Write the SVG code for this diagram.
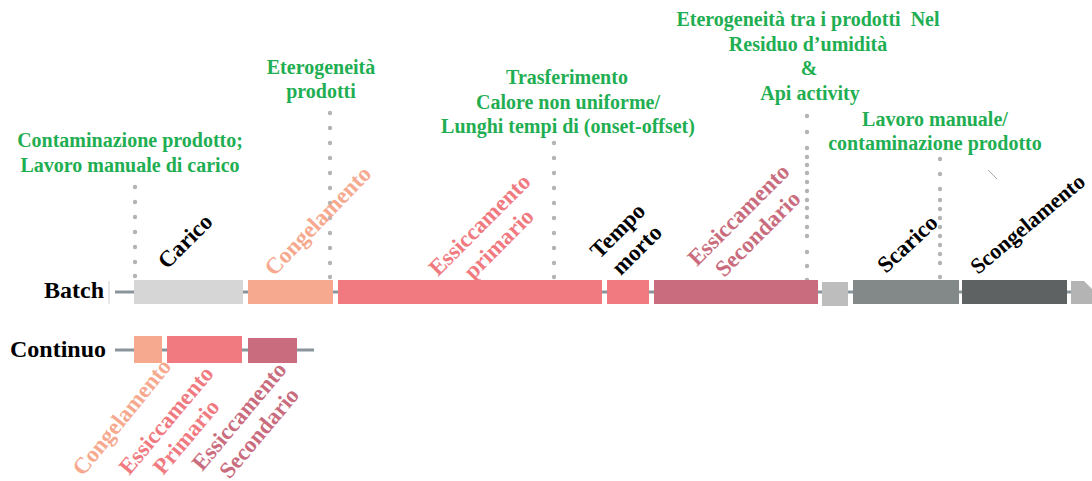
<svg xmlns="http://www.w3.org/2000/svg" width="1092" height="481" viewBox="0 0 1092 481">
<defs>
<style>
.g{font-family:"Liberation Serif","Times New Roman",serif;font-weight:bold;font-size:20px;fill:#1fae52;text-anchor:middle}
.r{font-family:"Liberation Serif","Times New Roman",serif;font-weight:bold;font-size:23px}
.m{text-anchor:middle}
.h{font-family:"Liberation Serif","Times New Roman",serif;font-weight:bold;font-size:24px;fill:#000}
.k{fill:#000}
.c1{fill:#f6a98e}
.c2{fill:#f07a7f}
.c3{fill:#c96d7e}
.ln{stroke:#8a959b;stroke-width:3;fill:none}
.dot{fill:#b4b4b4}
</style>
</defs>
<rect width="1092" height="481" fill="#fff"/>

<g id="connectors">
<line class="ln" x1="115" y1="292" x2="1080" y2="292"/>
<line class="ln" x1="115" y1="350" x2="314" y2="350"/>
<line x1="109" y1="281" x2="109" y2="304" stroke="#d0d0d0" stroke-width="1"/>
<line x1="988" y1="170" x2="997" y2="179" stroke="#aaa" stroke-width="1"/>
<g class="dot">
<circle cx="135" cy="187" r="2.2"/><circle cx="135" cy="202" r="2.2"/><circle cx="135" cy="217" r="2.2"/><circle cx="135" cy="232" r="2.2"/><circle cx="135" cy="247" r="2.2"/><circle cx="135" cy="262" r="2.2"/><circle cx="135" cy="276" r="2.2"/>
<circle cx="330" cy="113" r="2.2"/><circle cx="330" cy="128" r="2.2"/><circle cx="330" cy="143" r="2.2"/><circle cx="330" cy="158" r="2.2"/><circle cx="330" cy="173" r="2.2"/><circle cx="330" cy="188" r="2.2"/><circle cx="330" cy="203" r="2.2"/><circle cx="330" cy="218" r="2.2"/><circle cx="330" cy="233" r="2.2"/><circle cx="330" cy="248" r="2.2"/><circle cx="330" cy="263" r="2.2"/><circle cx="330" cy="277" r="2.2"/>
<circle cx="554" cy="143" r="2.2"/><circle cx="554" cy="158" r="2.2"/><circle cx="554" cy="173" r="2.2"/><circle cx="554" cy="188" r="2.2"/><circle cx="554" cy="203" r="2.2"/><circle cx="554" cy="218" r="2.2"/><circle cx="554" cy="233" r="2.2"/><circle cx="554" cy="248" r="2.2"/><circle cx="554" cy="263" r="2.2"/><circle cx="554" cy="277" r="2.2"/>
<circle cx="807" cy="116" r="2.2"/><circle cx="807" cy="132" r="2.2"/><circle cx="807" cy="148" r="2.2"/><circle cx="807" cy="157" r="2.2"/><circle cx="807" cy="165" r="2.2"/><circle cx="807" cy="173" r="2.2"/><circle cx="807" cy="182" r="2.2"/><circle cx="807" cy="191" r="2.2"/><circle cx="807" cy="200" r="2.2"/><circle cx="807" cy="208" r="2.2"/><circle cx="807" cy="217" r="2.2"/><circle cx="807" cy="227" r="2.2"/><circle cx="807" cy="236" r="2.2"/><circle cx="807" cy="252" r="2.2"/><circle cx="807" cy="266" r="2.2"/><circle cx="807" cy="280" r="2.2"/>
<circle cx="940" cy="159" r="2.2"/><circle cx="940" cy="174" r="2.2"/><circle cx="940" cy="189" r="2.2"/><circle cx="940" cy="200" r="2.2"/><circle cx="940" cy="209" r="2.2"/><circle cx="940" cy="218" r="2.2"/><circle cx="940" cy="227" r="2.2"/><circle cx="940" cy="236" r="2.2"/><circle cx="940" cy="245" r="2.2"/><circle cx="940" cy="254" r="2.2"/><circle cx="940" cy="263" r="2.2"/><circle cx="940" cy="277" r="2.2"/>
</g>
</g>

<g id="issues">
<text class="g" x="130" y="147">Contaminazione prodotto;</text>
<text class="g" x="130" y="172">Lavoro manuale di carico</text>
<text class="g" x="321" y="74">Eterogeneità</text>
<text class="g" x="321" y="98">prodotti</text>
<text class="g" x="567" y="84">Trasferimento</text>
<text class="g" x="568" y="109">Calore non uniforme/</text>
<text class="g" x="568" y="133">Lunghi tempi di (onset-offset)</text>
<text class="g" x="808" y="26" style="white-space:pre">Eterogeneità tra i prodotti  Nel</text>
<text class="g" x="808" y="51">Residuo d’umidità</text>
<text class="g" x="809" y="75">&amp;</text>
<text class="g" x="810" y="100">Api activity</text>
<text class="g" x="935" y="126">Lavoro manuale/</text>
<text class="g" x="935" y="150">contaminazione prodotto</text>
</g>

<g id="batch">
<text class="h" x="44" y="298">Batch</text>
<g id="carico">
<rect x="134" y="280" width="109" height="24" fill="#d5d6d5"/>
<text class="r k" transform="translate(167,270) rotate(-45)">Carico</text>
</g>
<g id="congelamento">
<rect x="248" y="280" width="85" height="24" fill="#f6a98e"/>
<text class="r c1" transform="translate(274,277) rotate(-46)">Congelamento</text>
</g>
<g id="essiccamento-primario">
<rect x="338" y="280" width="264" height="24" fill="#f07a7f"/>
<text class="r m c2" transform="translate(485,230) rotate(-45)"><tspan x="0" y="0">Essiccamento</tspan><tspan x="0" y="27">primario</tspan></text>
</g>
<g id="tempo-morto">
<rect x="607" y="280" width="42" height="24" fill="#f07a7f"/>
<text class="r m k" transform="translate(623,236) rotate(-45)"><tspan x="0" y="0">Tempo</tspan><tspan x="0" y="27">morto</tspan></text>
</g>
<g id="essiccamento-secondario">
<rect x="654" y="280" width="164" height="24" fill="#c96d7e"/>
<text class="r m c3" transform="translate(744,220) rotate(-45)"><tspan x="0" y="0">Essiccamento</tspan><tspan x="0" y="27">Secondario</tspan></text>
</g>
<g id="pausa">
<rect x="822" y="282" width="26" height="24" fill="#bdbdbd"/>
</g>
<g id="scarico">
<rect x="853" y="280" width="106" height="24" fill="#838888"/>
<text class="r k" transform="translate(886,274) rotate(-43)">Scarico</text>
</g>
<g id="scongelamento">
<rect x="962" y="280" width="105" height="24" fill="#5f6262"/>
<text class="r k" style="font-size:22px" transform="translate(978,275) rotate(-40)">Scongelamento</text>
</g>
<g id="coda">
<path d="M1071,281 H1084 L1092,289 V304 H1071 Z" fill="#b4b4b4"/>
</g>
</g>

<g id="continuo">
<text class="h" x="10" y="357">Continuo</text>
<g id="c-congelamento">
<rect x="134" y="336" width="28" height="27" fill="#f6a98e"/>
<text class="r c1" transform="translate(83,477) rotate(-51)">Congelamento</text>
</g>
<g id="c-primario">
<rect x="167" y="336" width="75" height="27" fill="#f07a7f"/>
<text class="r m c2" transform="translate(172,425) rotate(-50)"><tspan x="0" y="0">Essiccamento</tspan><tspan x="0" y="26">Primario</tspan></text>
</g>
<g id="c-secondario">
<rect x="248" y="338" width="49" height="25" fill="#c96d7e"/>
<text class="r m c3" transform="translate(245,421) rotate(-50)"><tspan x="0" y="0">Essiccamento</tspan><tspan x="0" y="26">Secondario</tspan></text>
</g>
</g>
</svg>
